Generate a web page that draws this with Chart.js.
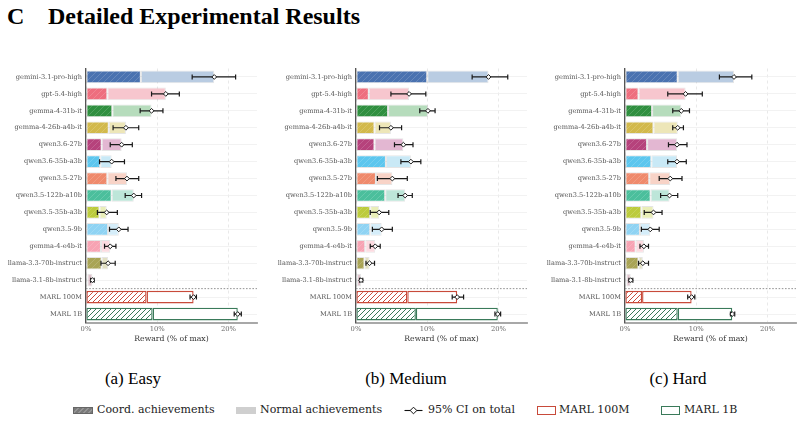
<!DOCTYPE html>
<html>
<head>
<meta charset="utf-8">
<script src="https://cdn.jsdelivr.net/npm/chart.js@4.4.1/dist/chart.umd.min.js"></script>
<style>
  html,body{margin:0;padding:0;background:#fff;}
  body{width:803px;height:422px;position:relative;overflow:hidden;}
  .abs{position:absolute;}
  .ttl{font-family:"Liberation Serif","Times New Roman",serif;font-weight:bold;font-size:24px;color:#000;white-space:nowrap;top:2px;line-height:28px;}
  .cap{font-family:"Liberation Serif","Times New Roman",serif;font-size:17px;color:#000;white-space:nowrap;top:368px;line-height:22px;transform:translateX(-50%);}
  .leg{font-family:"DejaVu Serif",serif;font-size:11px;color:#222;white-space:nowrap;top:403px;height:14px;line-height:14px;}
  .sw{position:absolute;}
</style>
</head>
<body>
<div class="abs ttl" style="left:7px">C</div>
<div class="abs ttl" style="left:48px">Detailed Experimental Results</div>

<canvas id="cEasy" class="abs" width="262" height="285" style="left:0px;top:60px;width:262px;height:285px"></canvas>
<canvas id="cMed" class="abs" width="262" height="285" style="left:270px;top:60px;width:262px;height:285px"></canvas>
<canvas id="cHard" class="abs" width="261" height="285" style="left:540px;top:60px;width:261px;height:285px"></canvas>

<div class="abs cap" style="left:133px">(a) Easy</div>
<div class="abs cap" style="left:406px">(b) Medium</div>
<div class="abs cap" style="left:678px">(c) Hard</div>

<div id="legend"></div>

<script>
// ---------------- DATA ----------------
const models = ["gemini-3.1-pro-high","gpt-5.4-high","gemma-4-31b-it","gemma-4-26b-a4b-it","qwen3.6-27b","qwen3.6-35b-a3b","qwen3.5-27b","qwen3.5-122b-a10b","qwen3.5-35b-a3b","qwen3.5-9b","gemma-4-e4b-it","llama-3.3-70b-instruct","llama-3.1-8b-instruct","MARL 100M","MARL 1B"];

// Easy
const easyCoord = [7.7, 3.0, 3.7, 3.2, 2.2, 2.0, 3.0, 3.6, 1.9, 3.1, 2.1, 2.2, 0.2, 8.5, 9.35];
const easyTotal = [18.0, 11.2, 9.2, 5.6, 5.0, 3.6, 5.75, 6.7, 2.9, 4.6, 3.4, 3.1, 0.9, 15.1, 21.3];
const easyLo    = [14.9, 9.2, 7.6, 3.8, 3.4, 1.9, 4.2, 5.5, 1.6, 3.3, 2.6, 2.1, 0.65, 14.6, 20.8];
const easyHi    = [21.0, 13.1, 10.8, 7.4, 6.5, 5.4, 7.4, 7.8, 4.4, 5.9, 4.2, 4.1, 1.15, 15.5, 21.8];

// Medium
const medCoord = [10.0, 1.8, 4.5, 2.6, 2.6, 4.2, 2.8, 4.1, 2.0, 2.0, 1.3, 1.2, 0.15, 7.2, 8.4];
const medTotal = [18.6, 7.45, 10.1, 4.9, 6.65, 7.7, 5.1, 6.9, 3.25, 3.6, 2.7, 1.9, 0.7, 14.2, 19.9];
const medLo    = [16.3, 4.9, 8.95, 3.3, 5.4, 6.3, 3.0, 5.9, 2.0, 2.3, 2.0, 1.4, 0.5, 13.5, 19.5];
const medHi    = [21.3, 9.8, 11.1, 6.4, 8.0, 9.1, 7.2, 7.9, 4.6, 5.1, 3.4, 2.6, 0.95, 15.1, 20.3];

// Hard
const hardCoord = [7.4, 1.9, 3.8, 4.0, 3.1, 3.7, 3.4, 3.6, 2.3, 2.1, 1.5, 1.9, 0.2, 2.4, 7.4];
const hardTotal = [15.3, 8.5, 7.9, 7.4, 7.3, 7.3, 6.35, 6.25, 4.0, 3.55, 2.65, 2.5, 0.8, 9.35, 15.05];
const hardLo    = [13.25, 6.0, 6.7, 6.7, 6.1, 6.0, 4.8, 5.0, 2.7, 2.3, 2.1, 1.9, 0.55, 8.8, 14.8];
const hardHi    = [17.8, 10.85, 9.05, 8.2, 8.7, 8.6, 8.0, 7.4, 5.2, 4.8, 3.3, 3.3, 1.1, 9.8, 15.4];

const xTicks = [0, 10, 20];
const xMax = 24;
const axisTitle = "Reward (% of max)";

// ---------------- STYLE ----------------
const coordColors  = ["#4a72b0","#ee6e7e","#2f8f3f","#d2b94c","#b6427c","#5cc6ee","#ef8a6c","#4bbf9c","#bccb3c","#8fd3f3","#f7a3b3","#a9a455","#a34763","#c84a3a","#3a7a5a"];
const normalColors = ["#b9cce2","#f7c6ce","#b6dcbc","#ede6b8","#e3b7d2","#c9e9f6","#f8d3c7","#bde6d9","#e9eeb8","#d5edf9","#fcdbe1","#e2e0c4","#dfc3cc","#ffffff","#ffffff"];
const marlIdx = [13, 14];

function hatch(bg, line, size, lw) {
  const c = document.createElement('canvas');
  c.width = size; c.height = size;
  const g = c.getContext('2d');
  g.fillStyle = bg; g.fillRect(0,0,size,size);
  g.strokeStyle = line; g.lineWidth = lw;
  g.beginPath();
  g.moveTo(-1, size+1); g.lineTo(size+1, -1);
  g.moveTo(-1, 1); g.lineTo(1, -1);
  g.moveTo(size-1, size+1); g.lineTo(size+1, size-1);
  g.stroke();
  return g.createPattern(c, 'repeat');
}

const ciPlugin = {
  id: 'ci',
  afterDatasetsDraw(chart, args, opts) {
    const {ctx, scales: {x, y}, chartArea} = chart;
    ctx.save();
    // separator between LLMs and MARL
    const ys = (y.getPixelForValue(12) + y.getPixelForValue(13)) / 2;
    ctx.strokeStyle = '#777'; ctx.lineWidth = 0.8; ctx.setLineDash([1.6, 1.6]);
    ctx.beginPath(); ctx.moveTo(chartArea.left, ys); ctx.lineTo(chartArea.right, ys); ctx.stroke();
    ctx.setLineDash([]);
    opts.total.forEach((t, i) => {
      const yp = y.getPixelForValue(i);
      const x0 = x.getPixelForValue(opts.lo[i]);
      const x1 = x.getPixelForValue(opts.hi[i]);
      const xm = x.getPixelForValue(t);
      ctx.strokeStyle = '#1a1a1a'; ctx.lineWidth = 1.2;
      ctx.beginPath();
      ctx.moveTo(x0, yp); ctx.lineTo(x1, yp);
      ctx.moveTo(x0, yp - 2.5); ctx.lineTo(x0, yp + 2.5);
      ctx.moveTo(x1, yp - 2.5); ctx.lineTo(x1, yp + 2.5);
      ctx.stroke();
      const r = 2.4;
      ctx.beginPath();
      ctx.moveTo(xm, yp - r); ctx.lineTo(xm + r, yp); ctx.lineTo(xm, yp + r); ctx.lineTo(xm - r, yp); ctx.closePath();
      ctx.fillStyle = '#fff'; ctx.fill();
      ctx.lineWidth = 1; ctx.stroke();
    });
    ctx.restore();
  }
};

function makeChart(id, coord, total, lo, hi, yWidth) {
  const coordBg = coordColors.map((c, i) => marlIdx.includes(i) ? hatch('#ffffff', c, 5, 1) : hatch(c, 'rgba(255,255,255,0.16)', 6, 1));
  const coordBorder = coordColors.map((c, i) => marlIdx.includes(i) ? c : 'rgba(0,0,0,0.10)');
  const normBorder = coordColors.map((c, i) => marlIdx.includes(i) ? c : 'rgba(0,0,0,0.10)');
  const bw = coordColors.map((c, i) => marlIdx.includes(i) ? 1.4 : 1);
  const normal = total.map((t, i) => t - coord[i]);
  return new Chart(document.getElementById(id), {
    type: 'bar',
    data: {
      labels: models,
      datasets: [
        { label: 'Coord. achievements', data: coord, backgroundColor: coordBg, borderColor: coordBorder, borderWidth: bw, borderSkipped: false, barPercentage: 0.75, categoryPercentage: 1 },
        { label: 'Normal achievements', data: normal, backgroundColor: normalColors, borderColor: normBorder, borderWidth: bw, borderSkipped: false, barPercentage: 0.75, categoryPercentage: 1 }
      ]
    },
    options: {
      indexAxis: 'y',
      responsive: false,
      animation: false,
      devicePixelRatio: 1,
      layout: { padding: { top: 8.5, right: 5, left: 0, bottom: 0 } },
      plugins: {
        legend: { display: false },
        tooltip: { enabled: false },
        ci: { total: total, lo: lo, hi: hi }
      },
      scales: {
        x: {
          stacked: true, min: 0, max: xMax,
          afterBuildTicks: s => { s.ticks = xTicks.map(v => ({ value: v })); },
          afterFit: s => { s.height = 22.5; },
          ticks: { callback: v => v + '%', font: { family: 'DejaVu Serif', size: 6.8 }, color: '#666', padding: 3, maxRotation: 0 },
          grid: { color: '#e4e4e4', lineWidth: 0.8, drawTicks: false },
          border: { display: true, color: '#a8a8a8', width: 2, dash: [3, 3] },
          title: { display: true, text: axisTitle, font: { family: 'DejaVu Serif', size: 7.7 }, color: '#333', padding: { top: 0, bottom: 1.2 } }
        },
        y: {
          stacked: true,
          afterFit: s => { s.width = yWidth; },
          ticks: { font: { family: 'DejaVu Serif', size: 6.6 }, color: '#555', padding: 4, autoSkip: false },
          grid: { color: '#efefef', lineWidth: 0.8, drawTicks: false, offset: false },
          border: { display: true, color: '#555', width: 1.3 }
        }
      }
    },
    plugins: [ciPlugin]
  });
}

const cE = makeChart('cEasy', easyCoord, easyTotal, easyLo, easyHi, 86);
const cM = makeChart('cMed', medCoord, medTotal, medLo, medHi, 86);
const cH = makeChart('cHard', hardCoord, hardTotal, hardLo, hardHi, 85);

// ---------------- LEGEND (HTML) ----------------
const legendItems = [
  { text: 'Coord. achievements', x: 73, sw: '<div class="sw" style="left:0;top:4px;width:20px;height:7px;box-sizing:border-box;border:1px solid #666;background:repeating-linear-gradient(135deg,#7a7a7a 0 2.5px,#959595 2.5px 3.6px);"></div>', tx: 24 },
  { text: 'Normal achievements', x: 236, sw: '<div class="sw" style="left:0;top:4px;width:20px;height:7px;background:#cfcfcf;"></div>', tx: 24 },
  { text: '95% CI on total', x: 404, sw: '<svg class="sw" style="left:0;top:2px" width="19" height="11"><line x1="0.5" y1="5.5" x2="18.5" y2="5.5" stroke="#111" stroke-width="1.1"/><path d="M9.5 2.2 L12.8 5.5 L9.5 8.8 L6.2 5.5 Z" fill="#fff" stroke="#111" stroke-width="1"/></svg>', tx: 24 },
  { text: 'MARL 100M', x: 537, sw: '<div class="sw" style="left:0;top:3px;width:19px;height:9px;box-sizing:border-box;border:1.6px solid #c84a3a;background:#fff;"></div>', tx: 22 },
  { text: 'MARL 1B', x: 661, sw: '<div class="sw" style="left:0;top:3px;width:19px;height:9px;box-sizing:border-box;border:1.6px solid #3a7a5a;background:#fff;"></div>', tx: 23 }
];
const lg = document.getElementById('legend');
legendItems.forEach(it => {
  const d = document.createElement('div');
  d.className = 'abs leg';
  d.style.left = it.x + 'px';
  d.innerHTML = it.sw + '<span style="position:absolute;left:' + it.tx + 'px;top:0">' + it.text + '</span>';
  lg.appendChild(d);
});
</script>
</body>
</html>
